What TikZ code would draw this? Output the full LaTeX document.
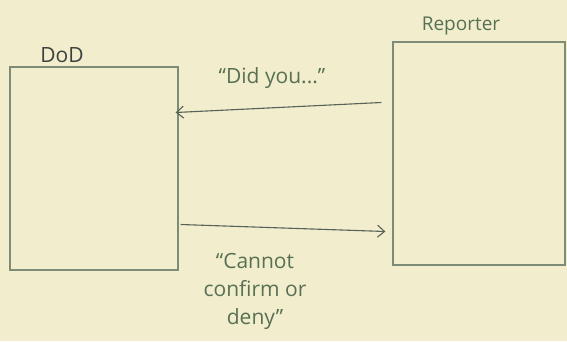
\documentclass[tikz,border=0pt]{standalone}
\usepackage{fontspec}
\setmainfont{Open Sans}
\usepackage{tikz}
\usetikzlibrary{arrows.meta, positioning}
\definecolor{paper}{RGB}{241, 237, 205}
\definecolor{pencil}{RGB}{125, 140, 118}
\definecolor{inkgray}{RGB}{88, 98, 88}
\definecolor{inkgreen}{RGB}{88, 112, 84}
\definecolor{inkdark}{RGB}{62, 66, 62}

\begin{document}
\begin{tikzpicture}[
    x=1pt, y=1pt,
    party/.style={
      rectangle, draw=pencil, line width=1.3pt,
      inner sep=0pt, minimum width=170pt
    },
    who/.style={font=\fontsize{21}{24}\selectfont, text=inkdark},
    quote/.style={font=\fontsize{21}{28}\selectfont, text=inkgreen, align=center},
    msg/.style={-{Straight Barb[length=7pt, width=12pt]}, line width=1.1pt, color=inkgray}
]
  % paper
  \fill[paper] (0,0) rectangle (567,341);
  \useasboundingbox (0,0) rectangle (567,341);

  \node[party, minimum width=168pt, minimum height=203pt] (dod) at (94,172.5) {};
  \node[party, minimum width=172pt, minimum height=223pt] (reporter) at (479,187.5) {};

  % names over the boxes
  \node[who, above=0pt of dod.north, xshift=-32pt] (dodname) {DoD};
  \node[who, above=3pt of reporter.north, xshift=-18pt, text=inkgreen, font=\fontsize{19}{22}\selectfont] (repname) {Reporter};

  % Arrows
  \draw[msg] ([xshift=-11pt, yshift=51pt]reporter.west)
    -- ([xshift=-3pt, yshift=56pt]dod.east);
  \draw[msg] ([xshift=2pt, yshift=-56pt]dod.east)
    -- ([xshift=-7pt, yshift=-78pt]reporter.west);

  % what is said
  \node[quote] (ask) at (272,263) {``Did you...''};
  \node[quote] (answer) at (255,50) {``Cannot\\confirm or\\deny''};
\end{tikzpicture}
\end{document}
